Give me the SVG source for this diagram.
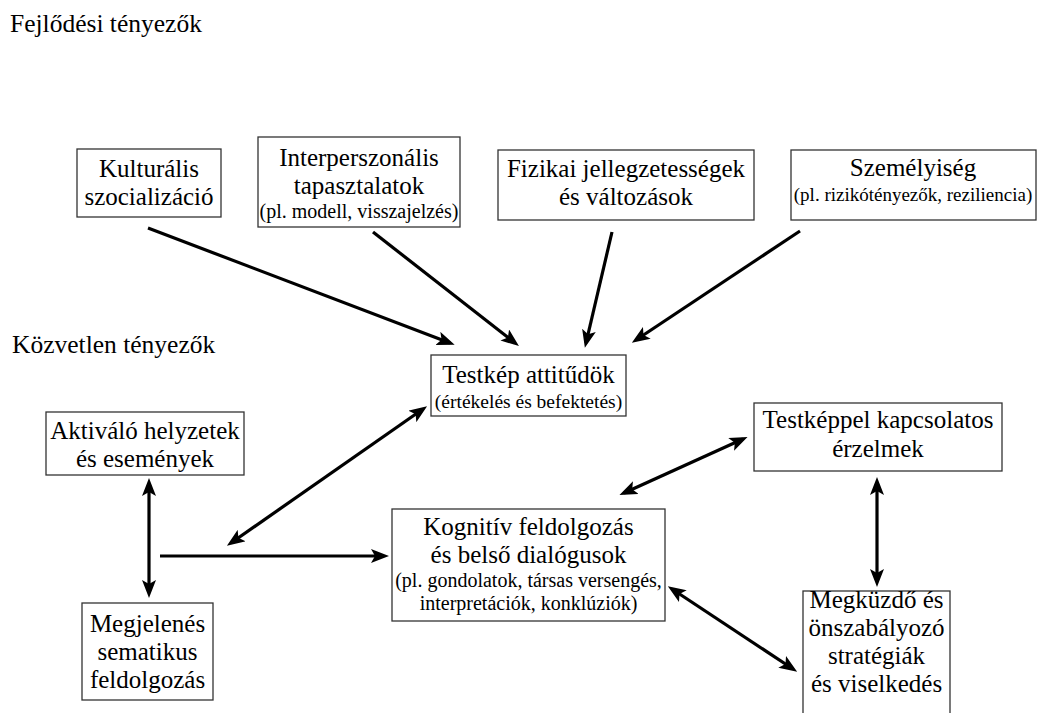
<svg xmlns="http://www.w3.org/2000/svg" width="1042" height="713" viewBox="0 0 1042 713">
<style>
text{font-family:"Liberation Serif","Times New Roman",serif;fill:#000;}
.h{font-size:25.5px;}
.m{font-size:25px;text-anchor:middle;}
.s{font-size:20px;text-anchor:middle;}
rect{fill:#fff;stroke:#333;stroke-width:1.3;}
.c line{stroke:#000;stroke-width:3.2;fill:none;}
.a{marker-end:url(#ah);}
.d{marker-start:url(#ah);marker-end:url(#ah);}
</style>
<defs>
<marker id="ah" markerUnits="userSpaceOnUse" markerWidth="18" markerHeight="14" refX="13" refY="7" orient="auto-start-reverse" viewBox="0 0 18 14">
<path d="M0,0 L18,7 L0,14 L4,7 z" fill="#000"/>
</marker>
</defs>
<rect x="0" y="0" width="1042" height="713" style="fill:#fff;stroke:none"/>
<g id="heading1"><text class="h" x="10" y="32">Fejlődési tényezők</text></g>
<g id="heading2"><text class="h" x="12" y="353">Közvetlen tényezők</text></g>

<g id="kulturalis">
<rect x="77" y="149" width="144" height="68"/>
<text class="m" x="149" y="177">Kulturális</text>
<text class="m" x="149" y="205">szocializáció</text>
</g>
<g id="interperszonalis">
<rect x="258" y="137" width="202" height="90"/>
<text class="m" x="359" y="166">Interperszonális</text>
<text class="m" x="359" y="194">tapasztalatok</text>
<text class="s" x="359" y="218">(pl. modell, visszajelzés)</text>
</g>
<g id="fizikai">
<rect x="498" y="150" width="256" height="70"/>
<text class="m" x="626" y="177">Fizikai jellegzetességek</text>
<text class="m" x="626" y="205">és változások</text>
</g>
<g id="szemelyiseg">
<rect x="791" y="150" width="245" height="70"/>
<text class="m" x="913" y="176">Személyiség</text>
<text class="s" x="913" y="201" style="font-size:19px">(pl. rizikótényezők, reziliencia)</text>
</g>
<g id="testkep">
<rect x="431" y="355" width="195" height="61"/>
<text class="m" x="528.5" y="383">Testkép attitűdök</text>
<text class="s" x="528.5" y="408" style="font-size:19.5px">(értékelés és befektetés)</text>
</g>
<g id="aktivalo">
<rect x="46" y="412" width="198" height="63"/>
<text class="m" x="145" y="439">Aktiváló helyzetek</text>
<text class="m" x="145" y="467">és események</text>
</g>
<g id="erzelmek">
<rect x="754" y="403" width="248" height="68"/>
<text class="m" x="878" y="428">Testképpel kapcsolatos</text>
<text class="m" x="878" y="457">érzelmek</text>
</g>
<g id="kognitiv">
<rect x="392" y="509" width="273" height="112"/>
<text class="m" x="528.5" y="535">Kognitív feldolgozás</text>
<text class="m" x="528.5" y="563">és belső dialógusok</text>
<text class="s" x="528.5" y="587">(pl. gondolatok, társas versengés,</text>
<text class="s" x="528.5" y="610">interpretációk, konklúziók)</text>
</g>
<g id="megjelenes">
<rect x="82" y="603" width="131" height="97"/>
<text class="m" x="147.5" y="632">Megjelenés</text>
<text class="m" x="147.5" y="660">sematikus</text>
<text class="m" x="147.5" y="688">feldolgozás</text>
</g>
<g id="megkuzdo">
<rect x="803" y="591" width="147" height="130"/>
<text class="m" x="876.5" y="608">Megküzdő és</text>
<text class="m" x="876.5" y="636">önszabályozó</text>
<text class="m" x="876.5" y="664">stratégiák</text>
<text class="m" x="876.5" y="692">és viselkedés</text>
</g>

<g id="connectors" class="c">
<line class="a" x1="148" y1="228" x2="450" y2="343"/>
<line class="a" x1="373" y1="232" x2="515" y2="343"/>
<line class="a" x1="612" y1="232" x2="586" y2="343"/>
<line class="a" x1="800" y1="231" x2="636" y2="340"/>
<line class="d" x1="423" y1="409" x2="231" y2="543"/>
<line class="d" x1="149" y1="483" x2="149" y2="593"/>
<line class="a" x1="160" y1="556" x2="384" y2="556"/>
<line class="d" x1="743" y1="439" x2="624" y2="493"/>
<line class="d" x1="877" y1="482" x2="877" y2="582"/>
<line class="d" x1="672" y1="589" x2="793" y2="669"/>
</g>
</svg>
